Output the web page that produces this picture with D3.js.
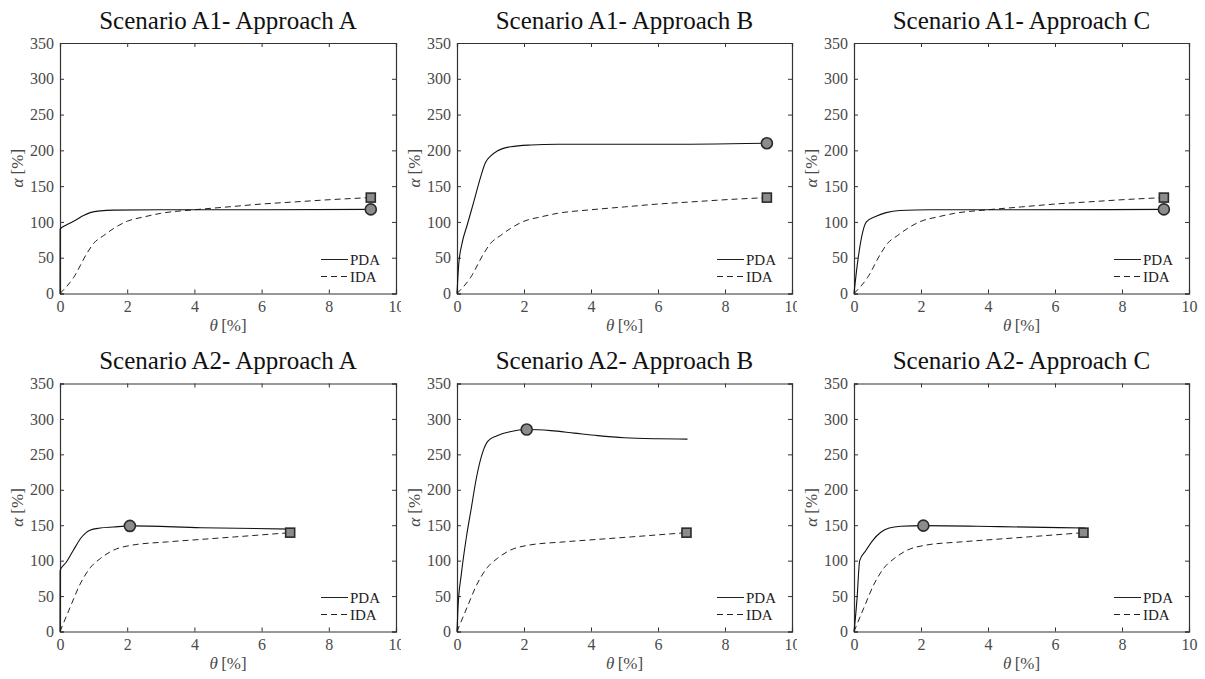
<!DOCTYPE html>
<html>
<head>
<meta charset="utf-8">
<script src="https://cdn.jsdelivr.net/npm/d3@7"></script>
<style>
body { margin: 0; background: #fff; }
text { font-family: "Liberation Serif", "Times New Roman", serif; }
</style>
</head>
<body>
<svg id="fig" width="1205" height="679"></svg>
<script>
// tick values
var xTicks = [0, 2, 4, 6, 8, 10];
var yTicks = [0, 50, 100, 150, 200, 250, 300, 350];

var titles = [
  "Scenario A1- Approach A", "Scenario A1- Approach B", "Scenario A1- Approach C",
  "Scenario A2- Approach A", "Scenario A2- Approach B", "Scenario A2- Approach C"
];

// IDA curves (same for each scenario)
var idaA1 = [[0,0],[0.4,22],[0.8,56],[1,70],[1.3,81],[1.6,91],[2,101],[2.5,107],[3,112],
  [4,117],[5,121],[6,125],[7,128],[8,131],[9.25,134]];
var idaA2 = [[0,0],[0.3,34],[0.6,67],[0.9,90],[1.2,103],[1.6,115],[2.1,121.5],[3.2,126.5],
  [4.2,130],[5.2,133.5],[6.85,139.5]];

// PDA curves
var pdaA1A = [[0,0],[0.003,90],[0.2,96],[0.45,102],[0.7,109],[0.9,113],[1.2,115.5],[1.6,116.5],
  [3,117],[6,117],[9.25,117.5]];
var pdaA1B = [[0,0],[0.05,40],[0.15,70],[0.3,95],[0.5,128],[0.7,162],[0.85,183],[1.0,192],
  [1.2,199],[1.6,205],[2.2,207.5],[3,208.5],[6,208.5],[9.25,210]];
var pdaA1C = [[0,0],[0.12,48],[0.37,100],[0.66,108],[0.96,113],[1.36,116],[2.3,117],[5,117],[9.25,117.5]];
var pdaA2A = [[0,0],[0.003,86],[0.19,98],[0.39,114],[0.64,133],[0.89,143],[1.19,146],[1.59,147.5],
  [2.09,149],[4.2,146.5],[6.9,144.5]];
var pdaA2B = [[0,0],[0.03,34],[0.13,81],[0.28,133],[0.43,175],[0.58,217],[0.78,255],[0.93,269],
  [1.18,276],[1.58,282],[2.08,285],[2.8,283.5],[3.5,280],[4.2,276.5],[5,273.5],[6,272],[6.88,271.5]];
var pdaA2C = [[0,0],[0.02,8.5],[0.09,46],[0.17,100],[0.35,114],[0.55,128],[0.8,140],[1.05,146],
  [1.4,148.5],[2.07,149.4],[4.33,148],[6.9,146]];

var pdaSeries = [pdaA1A, pdaA1B, pdaA1C, pdaA2A, pdaA2B, pdaA2C];
var idaSeries = [idaA1, idaA1, idaA1, idaA2, idaA2, idaA2];

// capacity markers: circle on PDA, square on IDA
var pdaMark = [[9.25,117.5],[9.25,210],[9.25,117.5],[2.08,149],[2.08,285],[2.07,149.4]];
var idaMark = [[9.25,134],[9.25,134],[9.25,134],[6.85,139.5],[6.85,139.5],[6.85,139.5]];

var legendNames = ["PDA", "IDA"];

// layout
var colLeft = [60, 457, 854], colRight = [396, 792, 1189];
var rowTop = [43, 383.5], rowBottom = [293.5, 631.5];
var colStart = [0, 401, 797];

var svg = d3.select("#fig");
var axisColor = "#333";
var labelColor = "#4a4a4a";
var serif = "'Liberation Serif', 'Times New Roman', serif";

for (var i = 0; i < 6; i++) {
  var r = Math.floor(i / 3), c = i % 3;
  var L = colLeft[c], R = colRight[c], T = rowTop[r], B = rowBottom[r];

  var g = svg.append("g");
  // white background so the next panel hides the previous "10" label
  g.append("rect").attr("x", colStart[c]).attr("y", r * 340)
    .attr("width", 1205 - colStart[c]).attr("height", 340).attr("fill", "#fff");

  var x = d3.scaleLinear().domain([0, 10]).range([L, R]);
  var y = d3.scaleLinear().domain([0, 350]).range([B, T]);

  // ticks inside, mirrored
  var xb = d3.axisBottom(x).tickValues(xTicks).tickSize(-4).tickPadding(7).tickFormat(d3.format("d"));
  var xt = d3.axisTop(x).tickValues(xTicks).tickSize(-4).tickFormat("");
  var yl = d3.axisLeft(y).tickValues(yTicks).tickSize(-4).tickPadding(6).tickFormat(d3.format("d"));
  var yr = d3.axisRight(y).tickValues(yTicks).tickSize(-4).tickFormat("");

  var axes = [
    g.append("g").attr("transform", "translate(0," + B + ")").call(xb),
    g.append("g").attr("transform", "translate(0," + T + ")").call(xt),
    g.append("g").attr("transform", "translate(" + L + ",0)").call(yl),
    g.append("g").attr("transform", "translate(" + R + ",0)").call(yr)
  ];
  axes.forEach(function(a) {
    a.attr("font-family", serif).attr("font-size", 16);
    a.select(".domain").attr("stroke", axisColor).attr("stroke-width", 1.2);
    a.selectAll(".tick line").attr("stroke", axisColor);
    a.selectAll(".tick text").attr("fill", labelColor)
      .style("font-size", "16px").style("font-family", serif);
  });

  // title
  g.append("text").attr("x", (L + R) / 2).attr("y", T - 14.5)
    .attr("text-anchor", "middle").attr("fill", "#111").style("font-size", "25px")
    .text(titles[i]);

  // axis labels
  var xl = g.append("text").attr("x", (L + R) / 2).attr("y", B + 37)
    .attr("text-anchor", "middle").attr("fill", labelColor).style("font-size", "17px");
  xl.append("tspan").style("font-style", "italic").text("θ");
  xl.append("tspan").text("\u2009[%]");

  var ylab = g.append("text")
    .attr("transform", "translate(" + (L - 37) + "," + ((T + B) / 2) + ") rotate(-90)")
    .attr("text-anchor", "middle").attr("fill", labelColor).style("font-size", "17px");
  ylab.append("tspan").style("font-style", "italic").text("α");
  ylab.append("tspan").text(" [%]");

  var line = d3.line().x(function(d) { return x(d[0]); }).y(function(d) { return y(d[1]); })
    .curve(d3.curveMonotoneX);

  g.append("path").datum(idaSeries[i]).attr("d", line).attr("fill", "none")
    .attr("stroke", "#222").attr("stroke-width", 1).attr("stroke-dasharray", "6,4");
  g.append("path").datum(pdaSeries[i]).attr("d", line).attr("fill", "none")
    .attr("stroke", "#111").attr("stroke-width", 1.1);

  // markers
  g.append("rect").attr("x", x(idaMark[i][0]) - 4.5).attr("y", y(idaMark[i][1]) - 4.5)
    .attr("width", 9).attr("height", 9).attr("fill", "#8c8c8c")
    .attr("stroke", "#2a2a2a").attr("stroke-width", 1.6);
  g.append("circle").attr("cx", x(pdaMark[i][0])).attr("cy", y(pdaMark[i][1])).attr("r", 5.5)
    .attr("fill", "#8c8c8c").attr("stroke", "#2a2a2a").attr("stroke-width", 1.6);

  // legend
  legendNames.forEach(function(name, k) {
    var ly = B - 34 + k * 17;
    g.append("line").attr("x1", R - 75).attr("x2", R - 48).attr("y1", ly).attr("y2", ly)
      .attr("stroke", "#222").attr("stroke-width", 1)
      .attr("stroke-dasharray", k === 1 ? "6,4" : null);
    g.append("text").attr("x", R - 46).attr("y", ly + 5).attr("fill", "#222")
      .style("font-size", "15px").text(name);
  });
}
</script>
</body>
</html>
